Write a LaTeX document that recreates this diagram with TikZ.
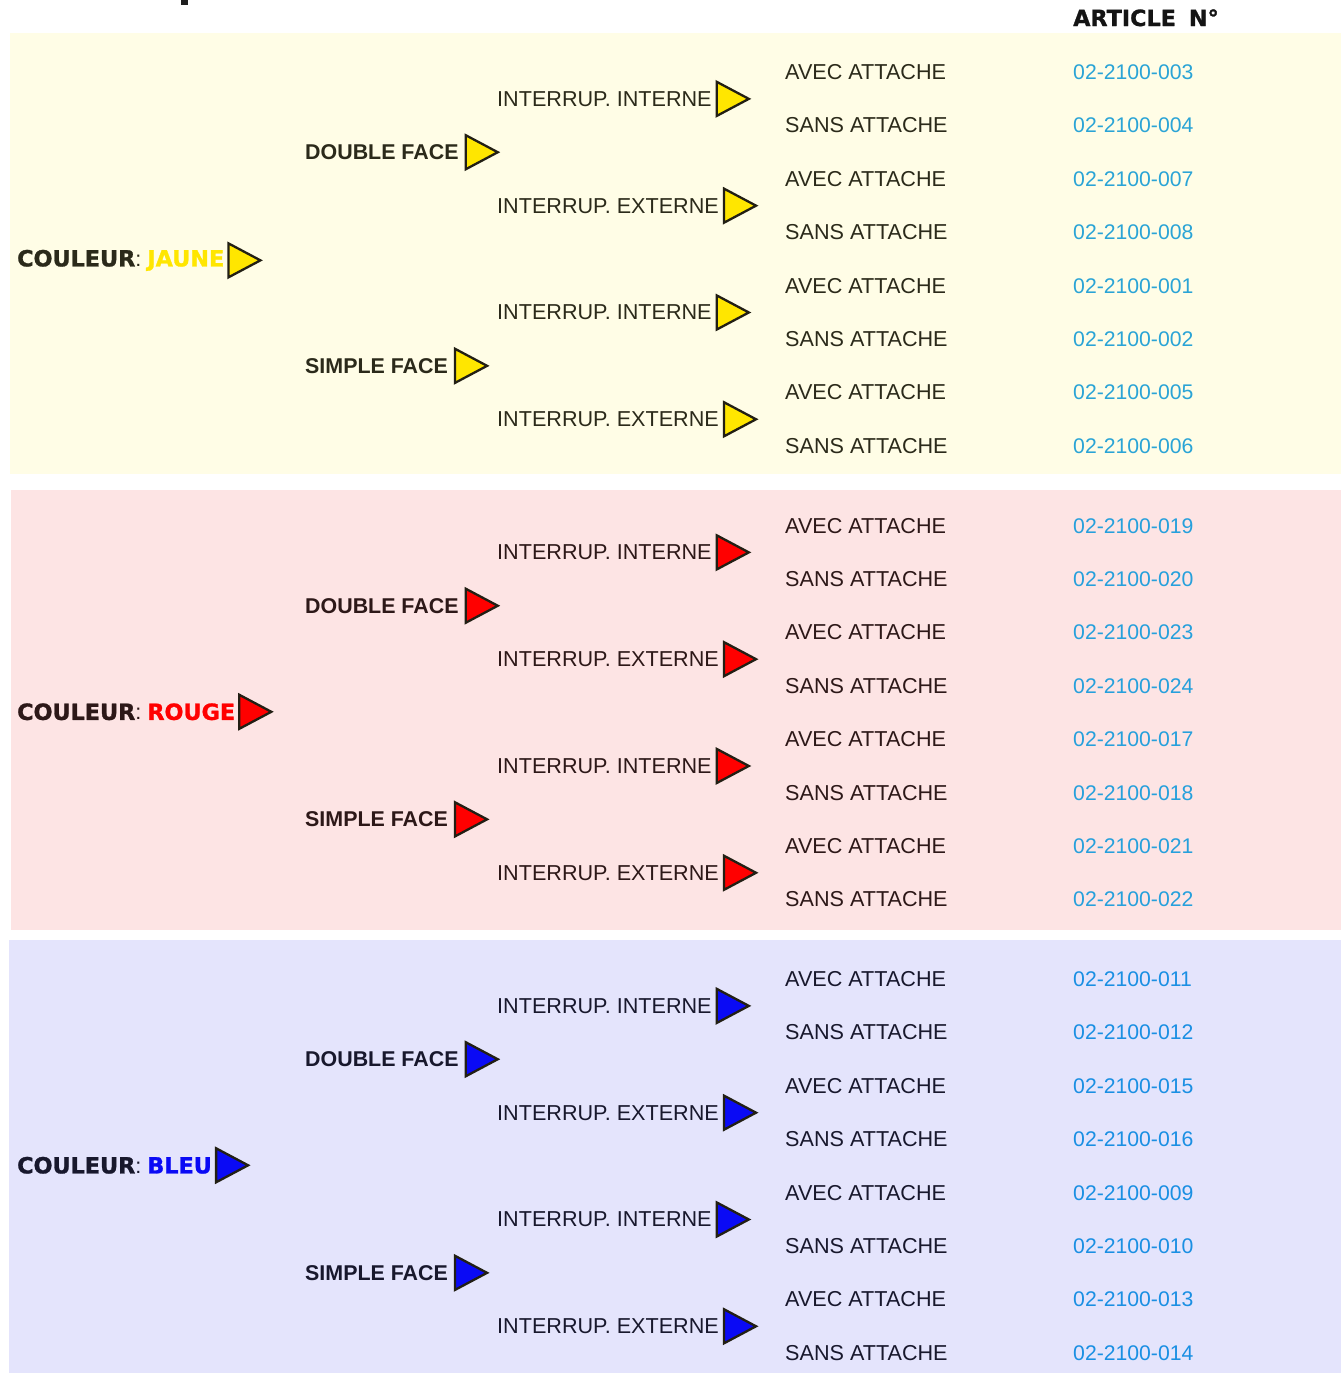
\documentclass[tikz,border=0pt]{standalone}
\usepackage{fontspec}
\setmainfont{Liberation Sans}
\newfontfamily\heavyfont{DejaVu Sans}[BoldFeatures={FakeBold=1.2}]
\usetikzlibrary{shapes.geometric,positioning}
\definecolor{ybg}{HTML}{FFFDE6}
\definecolor{rbg}{HTML}{FDE4E4}
\definecolor{bbg}{HTML}{E4E4FC}
\definecolor{jaune}{HTML}{FFE600}
\definecolor{rouge}{HTML}{FF0000}
\definecolor{bleu}{HTML}{0A0AF5}
\definecolor{ydk}{HTML}{2B2A1A}
\definecolor{rdk}{HTML}{2D1818}
\definecolor{bdk}{HTML}{18182D}
\definecolor{ynum}{HTML}{2AA4D6}
\definecolor{rnum}{HTML}{26A0DC}
\definecolor{bnum}{HTML}{1A8FE3}
\definecolor{tridraw}{HTML}{221F14}
\begin{document}
\begin{tikzpicture}[x=1pt,y=-1pt,
  lbl/.style={anchor=base west, inner sep=0pt, font=\fontsize{21.6}{22}\selectfont},
  numlbl/.style={anchor=base west, inner sep=0pt, font=\fontsize{21.2}{22}\selectfont},
  blbl/.style={lbl, font=\fontsize{21.4}{22}\selectfont\bfseries},
  hlbl/.style={lbl, font=\fontsize{22.3}{23}\selectfont\heavyfont\bfseries},
  tri/.style={isosceles triangle, isosceles triangle stretches, shape border rotate=0,
    minimum height=32pt, minimum width=34pt, inner sep=0pt, outer sep=0pt,
    draw=tridraw, line width=2.3pt, fill=#1}]
\useasboundingbox (0,0) rectangle (1341,1373);
\fill[black!88] (181,0) rectangle (188,5);
\node[hlbl, text=black!92] (art) at (1073,26) {ARTICLE\hspace{13pt}N°};
\foreach \b/\O/\cname/\ccol/\bg/\dk/\nc/\xa/\ya/\yb/\nums in {
  1/0/JAUNE/jaune/ybg/ydk/ynum/10/33/474/{003,004,007,008,001,002,005,006},
  2/453.5/ROUGE/rouge/rbg/rdk/rnum/11/490/930/{019,020,023,024,017,018,021,022},
  3/907/BLEU/bleu/bbg/bdk/bnum/9/940/1373/{011,012,015,016,009,010,013,014}}
{
  \fill[\bg] (\xa,\ya) rectangle (1341,\yb);
  % leaves and article numbers
  \foreach \n [count=\i from 0] in \nums {
    \pgfmathsetmacro\yy{72+53.4*\i+\O+7.5}
    \node[lbl, text=\dk] (leaf-\b-\i) at (785,\yy) {\ifodd\i SANS\else AVEC\fi\ ATTACHE};
    \node[numlbl, text=\nc] (num-\b-\i) at (1073,\yy) {02-2100-\n};
  }
  % switch level
  \foreach \j in {0,...,3} {
    \pgfmathsetmacro\yy{98.7+106.8*\j+\O+7.5}
    \node[lbl, text=\dk] (mid-\b-\j) at (497,\yy) {INTERRUP. \ifodd\j EXTERNE\else INTERNE\fi};
    \node[tri=\ccol, anchor=west, right=5pt of mid-\b-\j] (mt-\b-\j) {};
  }
  % face level
  \foreach \k/\face in {0/DOUBLE,1/SIMPLE} {
    \pgfmathsetmacro\yy{152.1+213.6*\k+\O+7.5}
    \node[blbl, text=\dk] (face-\b-\k) at (305,\yy) {\face\ FACE};
    \node[tri=\ccol, anchor=west, right=7pt of face-\b-\k] (ft-\b-\k) {};
  }
  % colour level
  \pgfmathsetmacro\yy{258.9+\O+7.5}
  \node[lbl, text=\dk] (coul-\b) at (17,\yy)
    {{\fontsize{22.3}{23}\selectfont\heavyfont\bfseries COULEUR}:\ {\fontsize{22.3}{23}\selectfont\heavyfont\bfseries\color{\ccol}\cname}};
  \node[tri=\ccol, anchor=west, right=4pt of coul-\b] (ct-\b) {};
}
\end{tikzpicture}
\end{document}
